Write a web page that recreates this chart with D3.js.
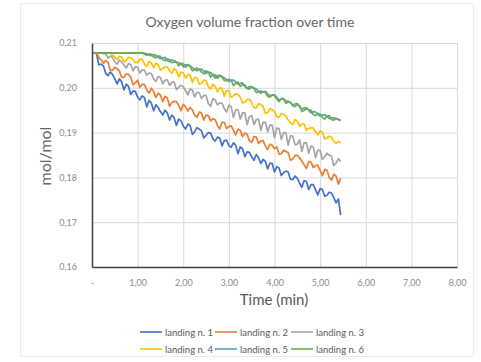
<!DOCTYPE html>
<html><head><meta charset="utf-8">
<script src="https://cdn.jsdelivr.net/npm/d3@7"></script>
<style>html,body{margin:0;padding:0;background:#fff;}svg{display:block;}</style>
</head><body>
<script>
const title = "Oxygen volume fraction over time";
const seriesNames = ["landing n. 1","landing n. 2","landing n. 3","landing n. 4","landing n. 5","landing n. 6"];
const colors = ["#4472C4","#ED7D31","#A5A5A5","#FFC000","#5B9BD5","#70AD47"];
const xTicks = [0,1,2,3,4,5,6,7,8];
const xTickLabels = ["-","1,00","2,00","3,00","4,00","5,00","6,00","7,00","8,00"];
const yTicks = [0.16,0.17,0.18,0.19,0.20,0.21];
const yTickLabels = ["0,16","0,17","0,18","0,19","0,20","0,21"];
const times = [
0,0.05,0.1,0.15,0.2,0.25,0.3,0.35,0.4,0.45,
0.5,0.55,0.6,0.65,0.7,0.75,0.8,0.85,0.9,0.95,
1.0,1.05,1.1,1.15,1.2,1.25,1.3,1.35,1.4,1.45,
1.5,1.55,1.6,1.65,1.7,1.75,1.8,1.85,1.9,1.95,
2.0,2.05,2.1,2.15,2.2,2.25,2.3,2.35,2.4,2.45,
2.5,2.55,2.6,2.65,2.7,2.75,2.8,2.85,2.9,2.95,
3.0,3.05,3.1,3.15,3.2,3.25,3.3,3.35,3.4,3.45,
3.5,3.55,3.6,3.65,3.7,3.75,3.8,3.85,3.9,3.95,
4.0,4.05,4.1,4.15,4.2,4.25,4.3,4.35,4.4,4.45,
4.5,4.55,4.6,4.65,4.7,4.75,4.8,4.85,4.9,4.95,
5.0,5.05,5.1,5.15,5.2,5.25,5.3,5.35,5.4,5.45];
const landing1 = [
.2078,.2078,.2076,.2051,.2053,.2049,.2032,.2027,.2035,.2030,
.2020,.2009,.2020,.2013,.1995,.2008,.2003,.1985,.1993,.1992,
.1979,.1973,.1982,.1978,.1957,.1972,.1966,.1949,.1962,.1956,
.1947,.1939,.1950,.1944,.1928,.1939,.1934,.1916,.1930,.1926,
.1915,.1908,.1919,.1916,.1896,.1902,.1911,.1908,.1904,.1888,
.1894,.1900,.1899,.1886,.1881,.1890,.1888,.1870,.1882,.1883,
.1871,.1867,.1877,.1872,.1853,.1868,.1864,.1846,.1857,.1856,
.1846,.1838,.1851,.1844,.1831,.1840,.1836,.1819,.1832,.1831,
.1812,.1824,.1821,.1804,.1811,.1814,.1812,.1796,.1795,.1803,
.1798,.1787,.1778,.1793,.1791,.1773,.1784,.1784,.1772,.1761,
.1775,.1773,.1758,.1760,.1767,.1765,.1755,.1743,.1752,.1716];
const landing2 = [
.2078,.2078,.2078,.2067,.2063,.2055,.2061,.2057,.2039,.2039,
.2046,.2042,.2038,.2023,.2023,.2031,.2030,.2024,.2007,.2011,
.2017,.2001,.2008,.2007,.1996,.1988,.1999,.1992,.1978,.1988,
.1984,.1969,.1981,.1978,.1959,.1967,.1970,.1969,.1961,.1949,
.1963,.1958,.1948,.1956,.1951,.1939,.1934,.1946,.1944,.1928,
.1939,.1938,.1926,.1931,.1929,.1916,.1908,.1923,.1923,.1909,
.1914,.1915,.1905,.1895,.1908,.1905,.1891,.1899,.1896,.1882,
.1878,.1891,.1890,.1876,.1881,.1882,.1870,.1862,.1874,.1872,
.1864,.1868,.1852,.1853,.1861,.1858,.1855,.1838,.1841,.1849,
.1849,.1844,.1836,.1828,.1820,.1836,.1834,.1822,.1827,.1827,
.1815,.1804,.1818,.1816,.1800,.1794,.1807,.1803,.1785,.1798];
const landing3 = [
.2078,.2078,.2078,.2078,.2078,.2076,.2077,.2066,.2071,.2068,
.2058,.2053,.2062,.2057,.2051,.2044,.2054,.2052,.2038,.2047,
.2046,.2033,.2040,.2039,.2028,.2033,.2032,.2020,.2014,.2025,
.2023,.2009,.2017,.2018,.2006,.2012,.2013,.1996,.2001,.2006,
.2002,.1994,.1984,.1997,.1995,.1980,.1990,.1989,.1976,.1983,
.1983,.1965,.1959,.1976,.1973,.1962,.1966,.1966,.1953,.1946,
.1961,.1958,.1934,.1951,.1951,.1930,.1944,.1944,.1918,.1936,
.1938,.1918,.1929,.1930,.1905,.1923,.1923,.1902,.1917,.1916,
.1889,.1910,.1909,.1885,.1900,.1900,.1872,.1893,.1892,.1873,
.1874,.1884,.1858,.1877,.1877,.1854,.1870,.1868,.1844,.1861,
.1860,.1840,.1846,.1854,.1850,.1847,.1826,.1832,.1842,.1835];
const landing4 = [
.2078,.2078,.2078,.2078,.2078,.2078,.2078,.2078,.2078,.2073,
.2069,.2063,.2070,.2069,.2058,.2061,.2068,.2067,.2063,.2056,
.2056,.2064,.2064,.2053,.2048,.2059,.2055,.2045,.2055,.2052,
.2039,.2043,.2047,.2047,.2038,.2032,.2043,.2039,.2024,.2035,
.2033,.2022,.2030,.2029,.2012,.2023,.2022,.2008,.2010,.2017,
.2016,.2003,.1997,.2008,.2003,.1991,.2000,.1999,.1981,.1994,
.1993,.1979,.1982,.1987,.1985,.1979,.1966,.1968,.1974,.1974,
.1967,.1956,.1955,.1964,.1963,.1958,.1943,.1945,.1953,.1951,
.1947,.1935,.1934,.1942,.1941,.1937,.1928,.1922,.1918,.1929,
.1926,.1914,.1919,.1919,.1906,.1909,.1911,.1910,.1902,.1895,
.1904,.1901,.1886,.1888,.1892,.1890,.1880,.1876,.1880,.1877];
const landing5 = [
.2078,.2078,.2078,.2078,.2078,.2078,.2078,.2078,.2078,.2078,
.2078,.2078,.2078,.2078,.2078,.2078,.2078,.2078,.2078,.2078,
.2078,.2078,.2078,.2077,.2076,.2073,.2072,.2074,.2073,.2068,
.2065,.2067,.2068,.2061,.2058,.2062,.2061,.2057,.2056,.2054,
.2047,.2051,.2052,.2049,.2045,.2042,.2038,.2041,.2042,.2037,
.2032,.2035,.2034,.2028,.2022,.2027,.2028,.2025,.2022,.2018,
.2014,.2017,.2017,.2013,.2008,.2010,.2011,.2003,.1998,.2003,
.2001,.1999,.1998,.1992,.1988,.1991,.1992,.1987,.1982,.1984,
.1984,.1979,.1972,.1976,.1975,.1971,.1970,.1967,.1961,.1964,
.1965,.1957,.1953,.1955,.1955,.1950,.1944,.1947,.1946,.1941,
.1937,.1939,.1940,.1936,.1931,.1933,.1933,.1931,.1929,.1928];
const landing6 = [
.2078,.2078,.2078,.2078,.2078,.2078,.2078,.2078,.2078,.2078,
.2078,.2078,.2078,.2078,.2078,.2078,.2078,.2078,.2078,.2078,
.2078,.2078,.2078,.2075,.2073,.2075,.2075,.2069,.2067,.2071,
.2070,.2063,.2060,.2065,.2063,.2056,.2057,.2058,.2049,.2054,
.2054,.2046,.2050,.2048,.2038,.2041,.2044,.2041,.2035,.2031,
.2038,.2035,.2024,.2030,.2029,.2021,.2027,.2024,.2016,.2016,
.2019,.2017,.2005,.2010,.2013,.2003,.2007,.2006,.1999,.1997,
.2003,.1999,.1989,.1990,.1993,.1991,.1990,.1981,.1979,.1984,
.1982,.1975,.1969,.1976,.1976,.1965,.1969,.1968,.1960,.1958,
.1963,.1960,.1947,.1950,.1953,.1951,.1950,.1940,.1938,.1943,
.1941,.1934,.1930,.1937,.1938,.1929,.1928,.1932,.1930,.1927];
const allSeries = [landing1,landing2,landing3,landing4,landing5,landing6];

const W = 481, H = 362;
const m = {left: 92, right: 24, top: 43, bottom: 95};
const font = "Lato, 'Open Sans', sans-serif";
const svg = d3.select("body").append("svg").attr("width", W).attr("height", H);
svg.append("rect").attr("x",20.5).attr("y",3.5).attr("width",453).attr("height",353)
  .attr("fill","#fff").attr("stroke","#ececec");

const x = d3.scaleLinear().domain([0,8]).range([m.left, W - m.right]);
const y = d3.scaleLinear().domain([0.16,0.21]).range([H - m.bottom, m.top]);

// gridlines
svg.append("g").attr("transform",`translate(0,${H-m.bottom})`)
  .call(d3.axisBottom(x).tickValues(xTicks).tickSize(-(H-m.bottom-m.top)).tickFormat(""))
  .call(g=>g.select(".domain").remove())
  .call(g=>g.selectAll("line").attr("stroke","#d9d9d9"));
svg.append("g").attr("transform",`translate(${m.left},0)`)
  .call(d3.axisLeft(y).tickValues(yTicks).tickSize(-(W-m.right-m.left)).tickFormat(""))
  .call(g=>g.select(".domain").remove())
  .call(g=>g.selectAll("line").attr("stroke","#d9d9d9"));

// lines
const line = d3.line().x((d,i)=>x(times[i])).y(d=>y(d));
allSeries.forEach((s,k)=>{
  svg.append("path").datum(s).attr("d", line).attr("fill","none")
    .attr("stroke", colors[k]).attr("stroke-width",1.7).attr("stroke-linejoin","round");
});

// axes lines
svg.append("g").attr("transform",`translate(0,${H-m.bottom})`)
  .call(d3.axisBottom(x).tickValues(xTicks).tickSize(0).tickPadding(13).tickFormat((d,i)=>xTickLabels[i]))
  .call(g=>g.select(".domain").attr("stroke","#404040").attr("stroke-width",1.5))
  .call(g=>g.selectAll("text").attr("fill","#8c8c8c").attr("font-size","9px").attr("font-family",font));
svg.append("g").attr("transform",`translate(${m.left},0)`)
  .call(d3.axisLeft(y).tickValues(yTicks).tickSize(0).tickPadding(15).tickFormat((d,i)=>yTickLabels[i]))
  .call(g=>g.select(".domain").attr("stroke","#404040").attr("stroke-width",1.5))
  .call(g=>g.selectAll("text").attr("fill","#8c8c8c").attr("font-size","9px").attr("font-family",font));

// titles
svg.append("text").attr("x",250).attr("y",27).attr("text-anchor","middle")
  .attr("font-family",font).attr("font-size","14px").attr("fill","#666").text(title);
svg.append("text").attr("x",274).attr("y",305).attr("text-anchor","middle")
  .attr("font-family",font).attr("font-size","15px").attr("fill","#595959").text("Time (min)");
svg.append("text").attr("transform","translate(51,156) rotate(-90)").attr("text-anchor","middle")
  .attr("font-family",font).attr("font-size","16px").attr("fill","#666").text("mol/mol");

// legend
const lx = [140,215,291], ly = [332,349];
seriesNames.forEach((n,k)=>{
  const gx = lx[k%3], gy = ly[Math.floor(k/3)];
  svg.append("line").attr("x1",gx).attr("x2",gx+22).attr("y1",gy).attr("y2",gy)
    .attr("stroke",colors[k]).attr("stroke-width",1.6);
  svg.append("text").attr("x",gx+25).attr("y",gy+3.5).attr("font-family",font)
    .attr("font-size","9.5px").attr("fill","#595959").text(n);
});
</script>
</body></html>
